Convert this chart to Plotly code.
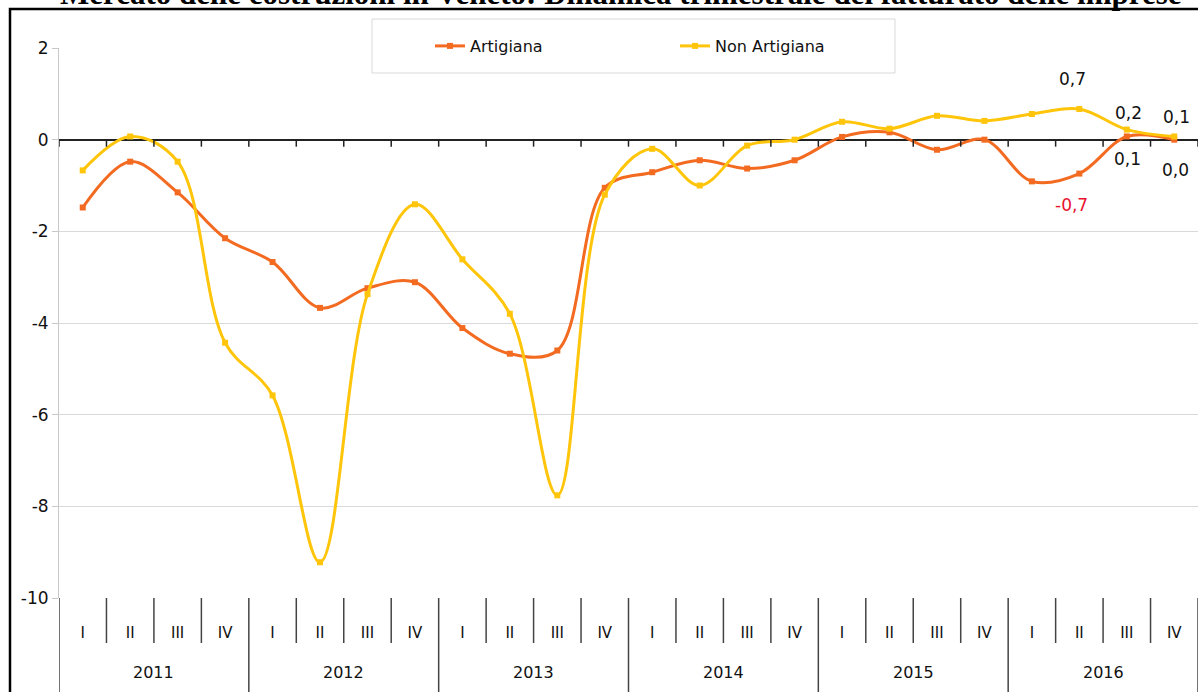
import plotly.graph_objects as go

years = ["2011", "2012", "2013", "2014", "2015", "2016"]
quarters = ["I", "II", "III", "IV"]
artigiana = [-1.48, -0.48, -1.15, -2.15,
             -2.67, -3.67, -3.24, -3.11,
             -4.11, -4.67, -4.60, -1.05,
             -0.71, -0.45, -0.63, -0.45,
             0.06, 0.16, -0.22, 0.00,
             -0.91, -0.74, 0.07, 0.00]
non_artigiana = [-0.67, 0.07, -0.48, -4.43,
                 -5.58, -9.22, -3.37, -1.41,
                 -2.61, -3.80, -7.76, -1.20,
                 -0.20, -1.00, -0.13, 0.00,
                 0.39, 0.24, 0.52, 0.41,
                 0.56, 0.67, 0.22, 0.07]
title_text = "Mercato delle costruzioni in Veneto: Dinamica trimestrale del fatturato delle imprese"
y_ticks = [2, 0, -2, -4, -6, -8, -10]

ORANGE = "#F36A21"
YELLOW = "#FFC50A"
FONT = "DejaVu Sans"

cats = [f"{q} {y}" for y in years for q in quarters]
qlabels = [q for y in years for q in quarters]

fig = go.Figure()
fig.add_trace(go.Scatter(x=cats, y=artigiana, name="Artigiana", mode="lines+markers",
                         line=dict(color=ORANGE, width=3, shape="spline", smoothing=1),
                         marker=dict(symbol="square", size=6, color=ORANGE)))
fig.add_trace(go.Scatter(x=cats, y=non_artigiana, name="Non Artigiana", mode="lines+markers",
                         line=dict(color=YELLOW, width=3, shape="spline", smoothing=1),
                         marker=dict(symbol="square", size=6, color=YELLOW)))

def fmt(v):
    return f"{v:.1f}".replace(".", ",")

shapes = []
annotations = []
n = len(cats)
# zero-line tick marks and bottom separators
for i in range(n + 1):
    shapes.append(dict(type="line", xref="x", yref="y", x0=i - 0.5, x1=i - 0.5,
                       ysizemode="pixel", yanchor=0, y0=0, y1=-7,
                       line=dict(color="#222222", width=1.5)))
    is_year = (i % 4 == 0)
    shapes.append(dict(type="line", xref="x", yref="paper", x0=i - 0.5, x1=i - 0.5,
                       y0=0, y1=-(94 if is_year else 45) / 550,
                       line=dict(color="#444444", width=1.5)))
for k, y in enumerate(years):
    annotations.append(dict(x=4 * k + 1.5, y=-75 / 550, xref="x", yref="paper",
                            text=y, showarrow=False, font=dict(family=FONT, size=16, color="#111111"),
                            xanchor="center", yanchor="middle"))

# data labels for the last points
label_specs = [
    (non_artigiana, 21, 30, "#111111"),
    (non_artigiana, 22, 17, "#111111"),
    (non_artigiana, 23, 19, "#111111"),
    (artigiana, 22, -23, "#111111"),
    (artigiana, 23, -30, "#111111"),
    (artigiana, 21, -31, "#E8112D"),
]
xoff = {21: -7, 22: 2, 23: 2}
for series, idx, dy, col in label_specs:
    annotations.append(dict(x=cats[idx], y=series[idx], xref="x", yref="y",
                            text=fmt(series[idx]), showarrow=False,
                            yshift=dy, xshift=xoff[idx] if dy > 0 else (xoff[idx] - 1),
                            font=dict(family=FONT, size=17, color=col),
                            xanchor="center", yanchor="middle"))

# title (cut at the top like the reference)
annotations.append(dict(x=(620 - 59) / 1139, y=1.0, xref="paper", yref="paper", yshift=35,
                        text=f"<b>{title_text}</b>", showarrow=False,
                        font=dict(family="Liberation Serif", size=31, color="#000000"),
                        xanchor="center", yanchor="bottom"))

# legend box
shapes.append(dict(type="rect", xref="paper", yref="paper",
                   x0=(372 - 59) / 1139, x1=(895 - 59) / 1139,
                   y0=(598 - 73) / 550, y1=(598 - 19) / 550,
                   line=dict(color="#D9D9D9", width=1), fillcolor="rgba(255,255,255,1)", layer="below"))
# outer frame
shapes.append(dict(type="rect", xref="paper", yref="paper",
                   x0=(10 - 59) / 1139, x1=1.05,
                   y0=-0.3, y1=(598 - 9) / 550,
                   line=dict(color="#000000", width=2.5), fillcolor="rgba(0,0,0,0)"))

fig.update_layout(
    width=1198, height=692,
    margin=dict(l=59, r=0, t=48, b=94),
    paper_bgcolor="white", plot_bgcolor="rgba(0,0,0,0)",
    font=dict(family=FONT, size=16, color="#111111"),
    showlegend=True,
    legend=dict(orientation="h", x=(430 - 59) / 1139, y=(598 - 46) / 550,
                xanchor="left", yanchor="middle", bgcolor="rgba(0,0,0,0)",
                borderwidth=0, entrywidth=200, font=dict(family=FONT, size=16, color="#111111")),
    shapes=shapes, annotations=annotations,
    xaxis=dict(type="category", range=[-0.5, n - 0.5], showgrid=False, zeroline=False,
               showline=False, ticks="", tickmode="array", tickvals=cats, ticktext=qlabels,
               tickfont=dict(family=FONT, size=15, color="#111111"), ticklabelstandoff=24),
    yaxis=dict(range=[-10, 2], tickmode="array", tickvals=y_ticks,
               ticktext=[str(v) for v in y_ticks],
               showgrid=True, gridcolor="#D9D9D9", gridwidth=1,
               zeroline=True, zerolinecolor="#222222", zerolinewidth=2,
               showline=True, linecolor="#C8C8C8", linewidth=1,
               ticks="outside", ticklen=6, tickcolor="#C8C8C8",
               tickfont=dict(family=FONT, size=17, color="#111111")),
)

fig.write_html("out.html", config={"displayModeBar": False},
               post_script="document.body.style.margin='0px';document.body.style.overflow='hidden';")
